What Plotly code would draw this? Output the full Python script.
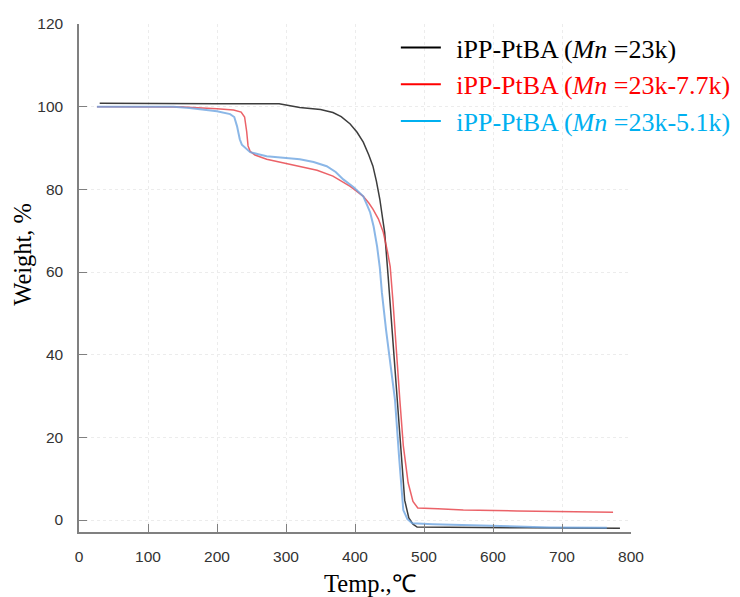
import plotly.graph_objects as go

# Data (Temp in °C, Weight in %)
t_black = [30, 100, 200, 290, 300, 320, 350, 368, 380, 393, 403, 412, 420, 426, 431, 436, 440, 443,
           448, 452, 456, 461, 466, 472, 478, 484, 490, 550, 650, 784]
w_black = [100.8, 100.7, 100.7, 100.7, 100.4, 99.8, 99.3, 98.6, 97.6, 95.8, 93.8, 91.4, 88.3, 85.6,
           82.0, 77.6, 73.0, 69.6, 59.0, 50.0, 40.0, 29.0, 17.0, 4.8, 0.5, -1.0, -1.7, -1.8, -1.9, -2.0]

t_red = [26, 100, 150, 200, 224, 235, 240, 243, 245, 248, 255, 272, 300, 320, 345, 368, 385, 393,
         405, 412, 420, 426, 434, 441, 447, 451, 455, 460, 465, 470, 477, 484, 491, 520, 557, 635,
         700, 774]
w_red = [100.0, 100.0, 99.9, 99.5, 99.2, 98.7, 97.5, 94.0, 90.5, 89.2, 88.3, 87.3, 86.3, 85.6, 84.6,
         83.2, 81.6, 80.7, 79.2, 78.3, 76.7, 75.2, 72.8, 69.6, 65.0, 61.3, 53.0, 40.0, 29.0, 18.0,
         9.0, 4.5, 2.9, 2.7, 2.4, 2.2, 2.0, 1.9]

t_blue = [26, 100, 137, 160, 175, 200, 219, 225, 229, 233, 236, 240, 248, 260, 272, 300, 320, 340,
          359, 372, 383, 398, 412, 418, 422, 427, 432, 436, 439, 445, 452, 458, 464, 470, 476, 483,
          513, 600, 683, 765]
w_blue = [100.0, 100.0, 100.0, 99.7, 99.4, 98.9, 98.2, 97.5, 95.3, 92.1, 90.8, 90.2, 89.0, 88.5,
          88.0, 87.6, 87.3, 86.6, 85.6, 84.2, 82.4, 80.5, 78.3, 76.0, 74.4, 71.0, 66.2, 61.0, 55.0,
          46.0, 37.0, 29.0, 15.0, 2.4, 0.2, -0.8, -1.0, -1.4, -1.8, -1.9]

names = ["iPP-PtBA (<i>Mn</i> =23k)",
         "iPP-PtBA (<i>Mn</i> =23k-7.7k)",
         "iPP-PtBA (<i>Mn</i> =23k-5.1k)"]
legend_colors = ["#000000", "#ff0000", "#00b0f0"]

x_ticks = [0, 100, 200, 300, 400, 500, 600, 700, 800]
y_ticks = [0, 20, 40, 60, 80, 100, 120]

fig = go.Figure()

series = [(t_black, w_black, "rgba(40,40,40,0.9)", 1.5),
          (t_red, w_red, "rgba(232,70,78,0.85)", 1.5),
          (t_blue, w_blue, "rgba(110,165,225,0.8)", 2.0)]
for (tx, wy, col, lw) in series:
    fig.add_trace(go.Scatter(x=tx, y=wy, mode="lines", line=dict(color=col, width=lw),
                             showlegend=False, hoverinfo="skip"))

gap = "\u2009\u2009"
for i, (nm, c) in enumerate(zip(names, legend_colors)):
    fig.add_trace(go.Scatter(x=[None], y=[None], mode="lines",
                             line=dict(color=c, width=2),
                             name=f'{gap}<span style="color:{c}">{nm}</span>',
                             showlegend=True))

axis_common = dict(showline=True, linecolor="#808080", linewidth=1.5,
                   ticks="inside", ticklen=8, tickwidth=1.3, tickcolor="#808080",
                   showgrid=True, gridcolor="#ececec", griddash="dot", gridwidth=1,
                   zeroline=False, mirror=False,
                   tickfont=dict(family="Liberation Sans, Arial", size=15.5, color="#333333"))

fig.update_xaxes(range=[0, 800], tickvals=x_ticks, ticklabelstandoff=10, **axis_common)
fig.update_yaxes(range=[-2.9, 120], tickvals=y_ticks, ticklabelstandoff=11, **axis_common)

# page has an 8px body margin, so the figure is sized to fit inside it
fig.update_layout(
    width=732, height=589,
    margin=dict(l=71, r=109, t=16, b=65, autoexpand=False),
    paper_bgcolor="white", plot_bgcolor="white",
    showlegend=True,
    legend=dict(x=0.574, y=1.0, xanchor="left", yanchor="top",
                bgcolor="rgba(0,0,0,0)",
                font=dict(family="Liberation Serif, Times New Roman", size=26, color="#000"),
                itemwidth=40),
    annotations=[
        dict(text="Weight, %", xref="paper", yref="paper", x=-0.103, y=0.546,
             xanchor="center", yanchor="middle", textangle=-90, showarrow=False,
             font=dict(family="Liberation Serif, Times New Roman", size=24.5, color="#000")),
        dict(text="Temp.,℃", xref="paper", yref="paper", x=0.527, y=-0.101,
             xanchor="center", yanchor="middle", showarrow=False,
             font=dict(family="Liberation Serif, Times New Roman", size=24.5, color="#000")),
    ],
)

fig.write_html("out.html")
